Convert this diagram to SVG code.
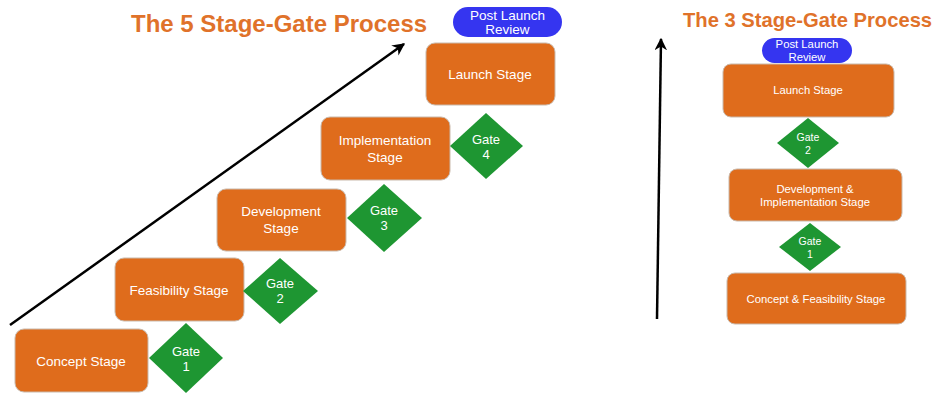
<svg xmlns="http://www.w3.org/2000/svg" width="933" height="395" viewBox="0 0 933 395">
  <defs>
    <marker id="arrow" viewBox="0 0 10 10" refX="9" refY="5" markerWidth="5" markerHeight="5" orient="auto" markerUnits="strokeWidth">
      <path d="M0,0 L10,5 L0,10 L3,5 Z" fill="#000"/>
    </marker>
    <style>
      .stage { fill: #df6c1c; stroke: #c9b9ab; stroke-width: 1; }
      .gate { fill: #1e9632; }
      .review { fill: #3535f0; }
      .lbl { font-family: "Liberation Sans", Arial, sans-serif; fill: #ffffff; text-anchor: middle; }
      .big { font-size: 13.5px; }
      .small { font-size: 11.3px; }
      .gtxt { font-size: 13px; }
      .gtxt-s { font-size: 10.5px; }
      .title { font-family: "Liberation Sans", Arial, sans-serif; font-weight: bold; fill: #e0722a; }
      .axis { stroke: #000; stroke-width: 2.5; fill: none; }
    </style>
  </defs>
  <rect width="933" height="395" fill="#ffffff"/>

  <!-- titles -->
  <text class="title" x="131" y="32" font-size="24">The 5 Stage-Gate Process</text>
  <text class="title" x="683" y="27" font-size="20.2">The 3 Stage-Gate Process</text>

  <!-- progress arrows -->
  <g id="connectors">
    <line class="axis" x1="10" y1="325" x2="404" y2="44" marker-end="url(#arrow)"/>
    <line class="axis" x1="657" y1="319" x2="661" y2="39" marker-end="url(#arrow)"/>
  </g>

  <!-- five-stage staircase -->
  <g id="concept-stage">
    <rect class="stage" x="15" y="329" width="133" height="63" rx="9"/>
    <text class="lbl big" x="81" y="366">Concept Stage</text>
  </g>
  <g id="gate-1">
    <polygon class="gate" points="186,323 223,358 186,393 149,358"/>
    <text class="lbl gtxt" x="186" y="356">Gate</text>
    <text class="lbl gtxt" x="186" y="371">1</text>
  </g>
  <g id="feasibility-stage">
    <rect class="stage" x="115" y="258" width="129" height="63" rx="9"/>
    <text class="lbl big" x="179" y="295">Feasibility Stage</text>
  </g>
  <g id="gate-2">
    <polygon class="gate" points="280,258 318,291 280,324 243,291"/>
    <text class="lbl gtxt" x="280" y="288">Gate</text>
    <text class="lbl gtxt" x="280" y="303">2</text>
  </g>
  <g id="development-stage">
    <rect class="stage" x="217" y="189" width="129" height="62" rx="9"/>
    <text class="lbl big" x="281" y="216">Development</text>
    <text class="lbl big" x="281" y="233">Stage</text>
  </g>
  <g id="gate-3">
    <polygon class="gate" points="384,184 422,218 384,252 347,218"/>
    <text class="lbl gtxt" x="384" y="215">Gate</text>
    <text class="lbl gtxt" x="384" y="230">3</text>
  </g>
  <g id="implementation-stage">
    <rect class="stage" x="321" y="117" width="129" height="63" rx="9"/>
    <text class="lbl big" x="385" y="145">Implementation</text>
    <text class="lbl big" x="385" y="162">Stage</text>
  </g>
  <g id="gate-4">
    <polygon class="gate" points="486,113 523,146 486,179 450,146"/>
    <text class="lbl gtxt" x="486" y="144">Gate</text>
    <text class="lbl gtxt" x="486" y="159">4</text>
  </g>
  <g id="launch-stage">
    <rect class="stage" x="426" y="43" width="129" height="62" rx="9"/>
    <text class="lbl big" x="490" y="79">Launch Stage</text>
  </g>
  <g id="post-launch-review">
    <rect class="review" x="453" y="7" width="109" height="30" rx="15"/>
    <text class="lbl big" x="507.5" y="20">Post Launch</text>
    <text class="lbl big" x="507.5" y="34">Review</text>
  </g>

  <!-- three-stage stack -->
  <g id="post-launch-review-3">
    <rect class="review" x="762" y="38" width="90" height="25" rx="12.5"/>
    <text class="lbl small" x="807" y="48">Post Launch</text>
    <text class="lbl small" x="807" y="61">Review</text>
  </g>
  <g id="launch-stage-3">
    <rect class="stage" x="723" y="64" width="171" height="53" rx="8"/>
    <text class="lbl small" x="808" y="94">Launch Stage</text>
  </g>
  <g id="gate-2-3">
    <polygon class="gate" points="808,118 839,143 808,168 777,143"/>
    <text class="lbl gtxt-s" x="808" y="141">Gate</text>
    <text class="lbl gtxt-s" x="808" y="154">2</text>
  </g>
  <g id="development-implementation-stage">
    <rect class="stage" x="729" y="169" width="173" height="52" rx="8"/>
    <text class="lbl small" x="815" y="193">Development &amp;</text>
    <text class="lbl small" x="815" y="206">Implementation Stage</text>
  </g>
  <g id="gate-1-3">
    <polygon class="gate" points="810,223 841,247 810,271 779,247"/>
    <text class="lbl gtxt-s" x="810" y="245">Gate</text>
    <text class="lbl gtxt-s" x="810" y="258">1</text>
  </g>
  <g id="concept-feasibility-stage">
    <rect class="stage" x="727" y="273" width="179" height="51" rx="8"/>
    <text class="lbl small" x="816" y="303">Concept &amp; Feasibility Stage</text>
  </g>
</svg>
